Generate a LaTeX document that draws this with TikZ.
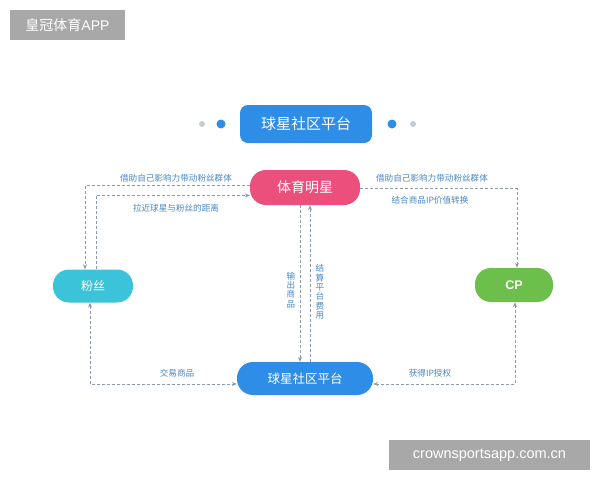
\documentclass[tikz,border=0pt]{standalone}
\usepackage{fontspec}
\setmainfont{Noto Sans CJK SC}
\newfontfamily\latinfont{Liberation Sans}
\usepackage{xcolor}
\usetikzlibrary{positioning}
\usetikzlibrary{arrows.meta}

\definecolor{hubblue}{HTML}{2E8DE6}
\definecolor{starpink}{HTML}{EC4F7C}
\definecolor{fancyan}{HTML}{3BC3D9}
\definecolor{cpgreen}{HTML}{6CBF4A}
\definecolor{linkgray}{HTML}{8C9AAE}
\definecolor{tagblue}{HTML}{4A86C5}
\definecolor{markgray}{HTML}{A8A8A8}
\definecolor{dotgray}{HTML}{C5CCD4}

\tikzset{
    pill/.style={rounded corners=16pt, text=white, inner sep=0pt},
    link/.style={linkgray, line width=0.7pt, dash pattern=on 3pt off 2pt},
    tip/.style={-{Stealth[length=5pt,width=4pt]}},
    tips/.style={{Stealth[length=5pt,width=4pt]}-{Stealth[length=5pt,width=4pt]}},
    tag/.style={tagblue, font=\fontsize{8.6}{9}\selectfont, inner sep=1pt},
    stamp/.style={fill=markgray, text=white, inner sep=0pt}
}

\begin{document}
\begin{tikzpicture}[x=1pt, y=-1pt]
    \useasboundingbox (0,0) rectangle (600,480);

    % Watermarks
    \node[stamp, minimum width=115pt, minimum height=30pt,
          font=\fontsize{14}{15}\selectfont] (markA) at (67.5,25) {皇冠体育{\latinfont APP}};
    \node[stamp, minimum width=201pt, minimum height=30pt,
          font=\latinfont\fontsize{14.5}{15}\selectfont] (markB) at (489.5,455) {crownsportsapp.com.cn};

    % Title
    \node[pill, rounded corners=8pt, fill=hubblue, minimum width=132pt, minimum height=38pt,
          font=\fontsize{15}{16}\selectfont] (title) at (306,124) {球星社区平台};
    \fill[dotgray] (202,124) circle (3pt);
    \fill[hubblue] (221,124) circle (4.5pt);
    \fill[hubblue] (392,124) circle (4.5pt);
    \fill[dotgray] (413,124) circle (3pt);

    % Main nodes
    \node[pill, fill=starpink, minimum width=110pt, minimum height=35pt,
          font=\fontsize{14}{15}\selectfont] (star) at (305,187.5) {体育明星};
    \node[pill, fill=fancyan, minimum width=80pt, minimum height=33pt,
          font=\fontsize{12}{13}\selectfont] (fans) at (93,286) {粉丝};
    \node[pill, fill=cpgreen, minimum width=78pt, minimum height=34pt,
          font=\latinfont\bfseries\fontsize{12.5}{13}\selectfont] (cp) at (514,285) {CP};
    \node[pill, fill=hubblue, minimum width=136pt, minimum height=33pt,
          font=\fontsize{12.5}{13}\selectfont] (hub) at (305,378.5) {球星社区平台};

    % Star to fans
    \draw[link, tip] ([yshift=2pt]star.west) -| ([xshift=-8pt]fans.north);
    \draw[link, tip] ([xshift=3pt]fans.north) |- ([yshift=-8pt]star.west);
    \node[tag] (pushL) at (176,178) {借助自己影响力带动粉丝群体};
    \node[tag] (close) at (176,208) {拉近球星与粉丝的距离};

    % Star to CP
    \draw[link, tip] ([yshift=-1pt]star.east) -| ([xshift=3pt]cp.north);
    \node[tag] (pushR) at (432,178) {借助自己影响力带动粉丝群体};
    \node[tag] (value) at (430,200) {结合商品IP价值转换};

    % Star and platform
    \draw[link, tip] ([xshift=-5pt]star.south) -- ([xshift=-5pt]hub.north);
    \draw[link, tip] ([xshift=5pt]hub.north) -- ([xshift=5pt]star.south);
    \node[tag, align=center, font=\fontsize{8.6}{9.4}\selectfont] (goods) at (291,290) {输\\出\\商\\品};
    \node[tag, align=center, font=\fontsize{8.6}{9.4}\selectfont] (fee) at (320,292) {结\\算\\平\\台\\费\\用};

    % Platform to fans and CP
    \draw[link, tips] ([xshift=-3pt]fans.south) |- ([yshift=-5.5pt]hub.west);
    \draw[link, tips] ([xshift=1pt]cp.south) |- ([yshift=-5.5pt]hub.east);
    \node[tag] (trade) at (177,373) {交易商品};
    \node[tag] (license) at (430,373) {获得IP授权};
\end{tikzpicture}
\end{document}
